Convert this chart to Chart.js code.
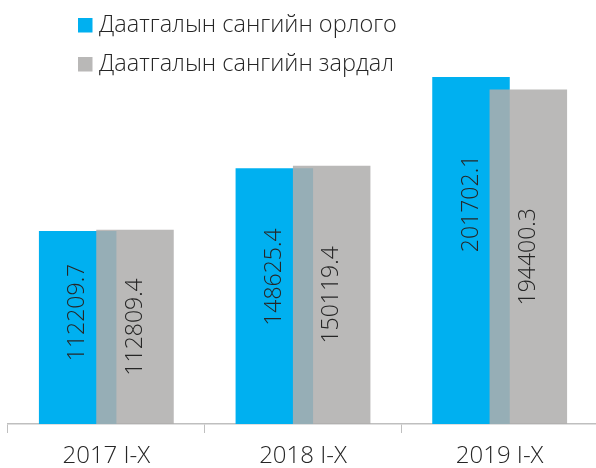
<!DOCTYPE html>
<html>
<head>
<meta charset="utf-8">
<script src="https://cdn.jsdelivr.net/npm/chart.js@4/dist/chart.umd.min.js"></script>
<style>
  html, body { margin: 0; padding: 0; background: #fff; overflow: hidden; }
  #wrap { width: 596px; height: 468px; overflow: hidden; }
</style>
</head>
<body>
<div id="wrap"><canvas id="chart" width="600" height="468"></canvas></div>
<script>
// Өгөгдөл
const categories = ['2017 I-X', '2018 I-X', '2019 I-X'];
const incomeValues = [112209.7, 148625.4, 201702.1];   // орлого
const expenseValues = [112809.4, 150119.4, 194400.3];  // зардал
const seriesNames = ['Даатгалын сангийн орлого', 'Даатгалын сангийн зардал'];

const BLUE = '#00b0f0';
const GRAY = 'rgba(175,174,172,0.86)';
const GRAY_SOLID = '#b9b8b7';
const FONT = '"Open Sans", "Noto Sans", sans-serif';

// саарал баганыг цэнхрийн дээр зурна
const grayOnTop = {
    id: 'grayOnTop',
    beforeDatasetDraw(chart, args) {
        if (args.index === 1) return false;
    },
    afterDatasetsDraw(chart) {
        chart.getDatasetMeta(1).controller.draw();
    }
};

// баганан доторх утгууд (босоо)
const barLabels = {
    id: 'barLabels',
    afterDatasetsDraw(chart, args, opts) {
        const ctx = chart.ctx;
        ctx.save();
        ctx.font = '300 23px ' + FONT;
        ctx.fillStyle = '#262626';
        ctx.textAlign = 'center';
        ctx.textBaseline = 'middle';
        chart.data.datasets.forEach((ds, i) => {
            const meta = chart.getDatasetMeta(i);
            meta.data.forEach((bar, j) => {
                const shift = (opts.shift[i] || [])[j] || 0;
                const y = (bar.y + bar.base) / 2 + shift;
                ctx.save();
                ctx.translate(bar.x, y);
                ctx.rotate(-Math.PI / 2);
                ctx.fillText(ds.data[j].toFixed(1), 0, 0);
                ctx.restore();
            });
        });
        ctx.restore();
    }
};

// тайлбар
const customLegend = {
    id: 'customLegend',
    afterDraw(chart) {
        const ctx = chart.ctx;
        const colors = [BLUE, GRAY_SOLID];
        ctx.save();
        ctx.font = '300 23.5px ' + FONT;
        ctx.textBaseline = 'middle';
        seriesNames.forEach((name, i) => {
            const y = 18 + i * 39;
            ctx.fillStyle = colors[i];
            ctx.fillRect(78, y, 14.5, 14.5);
            ctx.fillStyle = '#262626';
            ctx.fillText(name, 99, y + 7);
        });
        ctx.restore();
    }
};

const chart = new Chart(document.getElementById('chart'), {
    type: 'bar',
    data: {
        labels: categories,
        datasets: [{
            label: seriesNames[0],
            data: incomeValues,
            backgroundColor: BLUE,
            categoryPercentage: 0.583,
            barPercentage: 1.352
        }, {
            label: seriesNames[1],
            data: expenseValues,
            backgroundColor: GRAY,
            categoryPercentage: 0.583,
            barPercentage: 1.352
        }]
    },
    options: {
        responsive: false,
        animation: false,
        layout: { padding: { top: 11, left: 8, right: 2, bottom: 0 } },
        plugins: {
            legend: { display: false },
            tooltip: { enabled: false },
            barLabels: { shift: [[-15, -19, -47], [0, 0, 0]] }
        },
        scales: {
            y: { display: false, min: 0, max: 240000 },
            x: {
                grid: { offset: true, drawOnChartArea: false, color: '#bfbfbf', tickLength: 9 },
                border: { color: '#bfbfbf', width: 1.5 },
                ticks: { color: '#262626', font: { family: FONT, size: 24, weight: 300 }, padding: 9, maxRotation: 0 },
                afterFit: (scale) => { scale.height = 44; }
            }
        }
    },
    plugins: [grayOnTop, barLabels, customLegend]
});
</script>
</body>
</html>
